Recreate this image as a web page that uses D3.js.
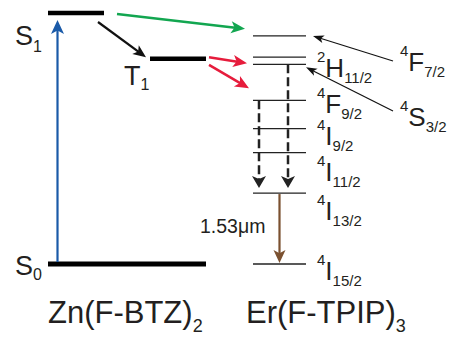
<!DOCTYPE html>
<html>
<head>
<meta charset="utf-8">
<script src="https://cdn.jsdelivr.net/npm/d3@7/dist/d3.min.js"></script>
<style>
  html, body { margin: 0; padding: 0; background: #fff; }
  svg { display: block; }
  text { font-family: "Liberation Sans", Arial, Helvetica, sans-serif; fill: #231f20; }
</style>
</head>
<body>
<svg id="chart" width="456" height="342"></svg>
<script>
// Energy levels (cm^-1) of the sensitizer and the erbium ion
const complexNames = ["Zn(F-BTZ)", "Er(F-TPIP)"];
const complexSubs = ["2", "3"];

const znStates = ["S0", "T1", "S1"];
const znEnergies = [0, 18800, 23000];

const erTerms = ["4I15/2", "4I13/2", "4I11/2", "4I9/2", "4F9/2", "4S3/2", "2H11/2", "4F7/2"];
const erEnergies = [0, 6500, 10200, 12400, 15000, 18300, 18950, 20900];

// Energy-transfer arrows (start / end energies)
const transferFrom = [22900, 18950, 18250];
const transferTo = [21550, 18400, 16100];

// Non-radiative relaxation: from these levels down to 4I13/2
const relaxFrom = ["4F9/2", "4S3/2"];

// Radiative emission
const emissionFrom = "4I13/2";
const emissionTo = "4I15/2";
const emissionLabel = "1.53\u03BCm";

// ---- layout ----
const svg = d3.select("#chart");
const y = d3.scaleLinear().domain([0, 23000]).range([264, 13]);
const erY = t => y(erEnergies[erTerms.indexOf(t)]);
const znY = s => y(znEnergies[znStates.indexOf(s)]);

const znSpan = { S0: [48, 206], T1: [150, 206], S1: [48, 104] };
const znLabel = { S0: [15, 11, 5], T1: [124, 26, 5], S1: [15, 32, 7] }; // x, baseline offset, sub offset
const erX = [253, 306];
const transferColors = ["#12a650", "#e61c3c", "#e61c3c"];
const transferX = [[117, 245], [209, 247], [209, 249]];
const relaxX = [259, 288];
// label placement: column x, baseline offset from level
const erLabel = {
  "4I15/2": [317, 16], "4I13/2": [317, 27], "4I11/2": [317, 28], "4I9/2": [317, 16],
  "4F9/2": [317, 13], "2H11/2": [317, 20], "4F7/2": [400, 35], "4S3/2": [400, 62]
};

function arrow(g, x1, y1, x2, y2, color, width, hl, hw, dash) {
  const dx = x2 - x1, dy = y2 - y1, L = Math.hypot(dx, dy);
  const ux = dx / L, uy = dy / L, px = -uy, py = ux;
  const bx = x2 - ux * hl, by = y2 - uy * hl;
  g.append("line")
    .attr("x1", x1).attr("y1", y1)
    .attr("x2", x2 - ux * hl * 0.7).attr("y2", y2 - uy * hl * 0.7)
    .attr("stroke", color).attr("stroke-width", width)
    .attr("stroke-dasharray", dash || null);
  const nx = x2 - ux * hl * 0.75, ny = y2 - uy * hl * 0.75;
  g.append("path")
    .attr("d", `M${x2},${y2}L${bx + px * hw / 2},${by + py * hw / 2}L${nx},${ny}L${bx - px * hw / 2},${by - py * hw / 2}Z`)
    .attr("fill", color);
}

const g = svg.append("g");

// sensitizer levels
znStates.forEach(s => {
  const w = s === "S0" ? 5 : 4.5;
  g.append("line")
    .attr("x1", znSpan[s][0]).attr("x2", znSpan[s][1])
    .attr("y1", znY(s)).attr("y2", znY(s))
    .attr("stroke", "#000").attr("stroke-width", w);
  const [lx, off, so] = znLabel[s];
  const t = g.append("text").attr("x", lx).attr("y", znY(s) + off).style("font-size", "27px");
  t.append("tspan").text(s[0]);
  t.append("tspan").attr("dy", so).style("font-size", "16px").text(s.slice(1));
});

// absorption S0 -> S1
arrow(g, 57.5, znY("S0") - 2, 57.5, znY("S1") + 7, "#1a5aa8", 2.2, 14, 13);
// intersystem crossing S1 -> T1
arrow(g, 98, znY("S1") + 9, 146, znY("T1") - 1.5, "#111", 2.2, 13, 11);

// erbium levels
erTerms.forEach(t => {
  g.append("line")
    .attr("x1", erX[0]).attr("x2", erX[1])
    .attr("y1", erY(t)).attr("y2", erY(t))
    .attr("stroke", "#222").attr("stroke-width", 1.3);
  const [lx, off] = erLabel[t];
  const base = erY(t) + off;
  const txt = g.append("text").attr("x", lx).attr("y", base - 15).style("font-size", "15px");
  txt.append("tspan").text(t[0]);
  txt.append("tspan").attr("dy", 15).style("font-size", "26px").text(t[1]);
  txt.append("tspan").attr("dy", 6).style("font-size", "15px").text(t.slice(2));
});

// energy transfer
transferFrom.forEach((e, i) => {
  arrow(g, transferX[i][0], y(e), transferX[i][1], y(transferTo[i]), transferColors[i], 2.5, 14, 12);
});

// relaxation to 4I13/2
relaxFrom.forEach((t, i) => {
  arrow(g, relaxX[i], erY(t), relaxX[i], erY("4I13/2") - 5, "#222", 2.5, 12, 14, "9,4");
});

// emission
const ex = 279.5;
arrow(g, ex, erY(emissionFrom) + 1, ex, erY(emissionTo) - 1, "#7b5130", 2.2, 13, 12);
g.append("text").attr("x", 200).attr("y", 233).style("font-size", "19.5px").text(emissionLabel);

// label pointers for 4F7/2 and 4S3/2
arrow(g, 393, 61, 313, erY("4F7/2"), "#111", 1.2, 11, 8);
arrow(g, 393, 111, 306, erY("4S3/2") + 3, "#111", 1.2, 11, 8);

// complex names
[48, 246].forEach((x, i) => {
  const t = g.append("text").attr("x", x).attr("y", 323).style("font-size", "31px");
  t.append("tspan").text(complexNames[i]);
  t.append("tspan").attr("dy", 9).style("font-size", "18px").text(complexSubs[i]);
});
</script>
</body>
</html>
